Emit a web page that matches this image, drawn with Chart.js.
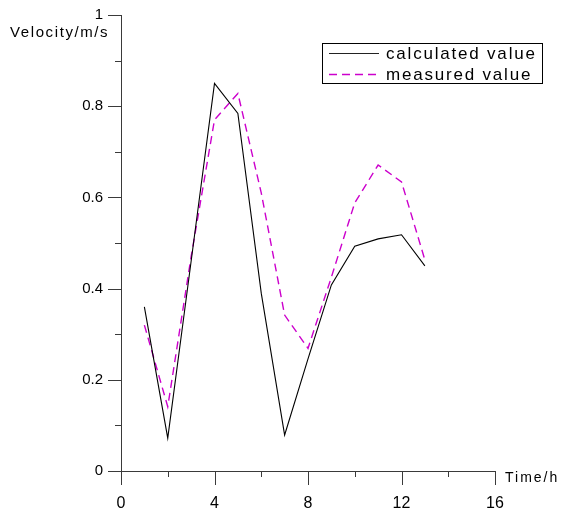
<!DOCTYPE html>
<html>
<head>
<meta charset="utf-8">
<script src="https://cdn.jsdelivr.net/npm/chart.js@4.4.1/dist/chart.umd.min.js"></script>
<style>
html,body{margin:0;padding:0;background:#fff;}
canvas{display:block;}
</style>
</head>
<body>
<canvas id="c" width="563" height="516"></canvas>
<script>
// ---- data ----
const timeH = [1, 2, 3, 4, 5, 6, 7, 8, 9, 10, 11, 12, 13];
const calculatedValue = [0.36, 0.072, 0.46, 0.85, 0.784, 0.39, 0.079, 0.246, 0.408, 0.493, 0.509, 0.518, 0.45];
const measuredValue = [0.32, 0.141, 0.47, 0.77, 0.828, 0.61, 0.342, 0.269, 0.425, 0.588, 0.671, 0.634, 0.463];
const seriesNames = ['calculated value', 'measured value'];
const xTitle = 'Time/h';
const yTitle = 'Velocity/m/s';

const FONT = '"Liberation Sans", Arial, sans-serif';
const AXIS = '#3a3a3a';
const MAGENTA = '#cc00cc';

const toPts = (xs, ys) => xs.map((x, i) => ({x: x, y: ys[i]}));

const decor = {
  id: 'decor',
  afterDraw(chart) {
    const ctx = chart.ctx;
    const xs = chart.scales.x, ys = chart.scales.y;
    const ca = chart.chartArea;
    ctx.save();
    ctx.strokeStyle = AXIS;
    ctx.lineWidth = 1;
    // y ticks
    ys.ticks.forEach(t => {
      const py = Math.round(ys.getPixelForValue(t.value)) + 0.5;
      const major = Math.round(t.value * 10) % 2 === 0;
      const len = major ? 13 : 6;
      ctx.beginPath();
      ctx.moveTo(ca.left - len, py);
      ctx.lineTo(ca.left, py);
      ctx.stroke();
    });
    // x ticks
    xs.ticks.forEach(t => {
      const px = Math.round(xs.getPixelForValue(t.value)) + 0.5;
      const major = Math.round(t.value) % 4 === 0;
      const len = major ? 14 : 6;
      ctx.beginPath();
      ctx.moveTo(px, ca.bottom);
      ctx.lineTo(px, ca.bottom + len);
      ctx.stroke();
    });
    // axis titles
    ctx.fillStyle = '#000';
    ctx.textBaseline = 'middle';
    ctx.textAlign = 'left';
    ctx.font = '15px ' + FONT;
    try { ctx.letterSpacing = '1.6px'; } catch (e) {}
    ctx.fillText(yTitle, 10, 33);
    ctx.font = '14px ' + FONT;
    try { ctx.letterSpacing = '2px'; } catch (e) {}
    ctx.fillText(xTitle, ca.right + 10, 478);
    // legend
    const lx = ca.left + 201, ly = 43;
    ctx.strokeStyle = '#000';
    ctx.lineWidth = 1;
    ctx.strokeRect(lx + 0.5, ly + 0.5, 220, 40);
    ctx.beginPath();
    ctx.strokeStyle = '#222';
    ctx.moveTo(lx + 7, ly + 10.5);
    ctx.lineTo(lx + 57, ly + 10.5);
    ctx.stroke();
    ctx.beginPath();
    ctx.strokeStyle = MAGENTA;
    ctx.lineWidth = 1.3;
    ctx.setLineDash([8, 5]);
    ctx.moveTo(lx + 7, ly + 31.5);
    ctx.lineTo(lx + 57, ly + 31.5);
    ctx.stroke();
    ctx.setLineDash([]);
    ctx.fillStyle = '#000';
    ctx.font = '17px ' + FONT;
    try { ctx.letterSpacing = '1.8px'; } catch (e) {}
    ctx.fillText(seriesNames[0], lx + 64, ly + 11);
    ctx.fillText(seriesNames[1], lx + 64, ly + 32);
    ctx.restore();
  }
};

new Chart(document.getElementById('c'), {
  type: 'line',
  data: {
    datasets: [
      {
        label: seriesNames[0],
        data: toPts(timeH, calculatedValue),
        borderColor: '#000',
        borderWidth: 1.1,
        pointRadius: 0,
        tension: 0,
        fill: false
      },
      {
        label: seriesNames[1],
        data: toPts(timeH, measuredValue),
        borderColor: MAGENTA,
        borderWidth: 1.4,
        borderDash: [8, 5],
        pointRadius: 0,
        tension: 0,
        fill: false
      }
    ]
  },
  options: {
    responsive: false,
    animation: false,
    devicePixelRatio: 1,
    layout: { autoPadding: false, padding: { left: 0, right: 68, top: 15, bottom: 0 } },
    plugins: { legend: { display: false }, tooltip: { enabled: false } },
    scales: {
      x: {
        type: 'linear',
        min: 0, max: 16,
        afterFit(s) { s.height = 45; s.paddingLeft = 0; s.paddingRight = 0; s.paddingTop = 0; s.paddingBottom = 0; },
        grid: { display: true, drawOnChartArea: false, drawTicks: false },
        border: { display: true, color: AXIS, width: 1 },
        ticks: {
          stepSize: 2,
          padding: 23,
          color: '#000',
          font: { family: FONT, size: 16 },
          maxRotation: 0,
          autoSkip: false,
          callback: v => (Math.round(v) % 4 === 0 ? String(v) : '')
        }
      },
      y: {
        type: 'linear',
        min: 0, max: 1,
        afterFit(s) { s.width = 121; s.paddingLeft = 0; s.paddingRight = 0; s.paddingTop = 0; s.paddingBottom = 0; },
        grid: { display: true, drawOnChartArea: false, drawTicks: false },
        border: { display: true, color: AXIS, width: 1 },
        ticks: {
          stepSize: 0.1,
          padding: 18,
          color: '#000',
          font: { family: FONT, size: 15 },
          autoSkip: false,
          callback: v => (Math.round(v * 10) % 2 === 0 ? String(+(+v).toFixed(1)) : '')
        }
      }
    }
  },
  plugins: [decor]
});
</script>
</body>
</html>
